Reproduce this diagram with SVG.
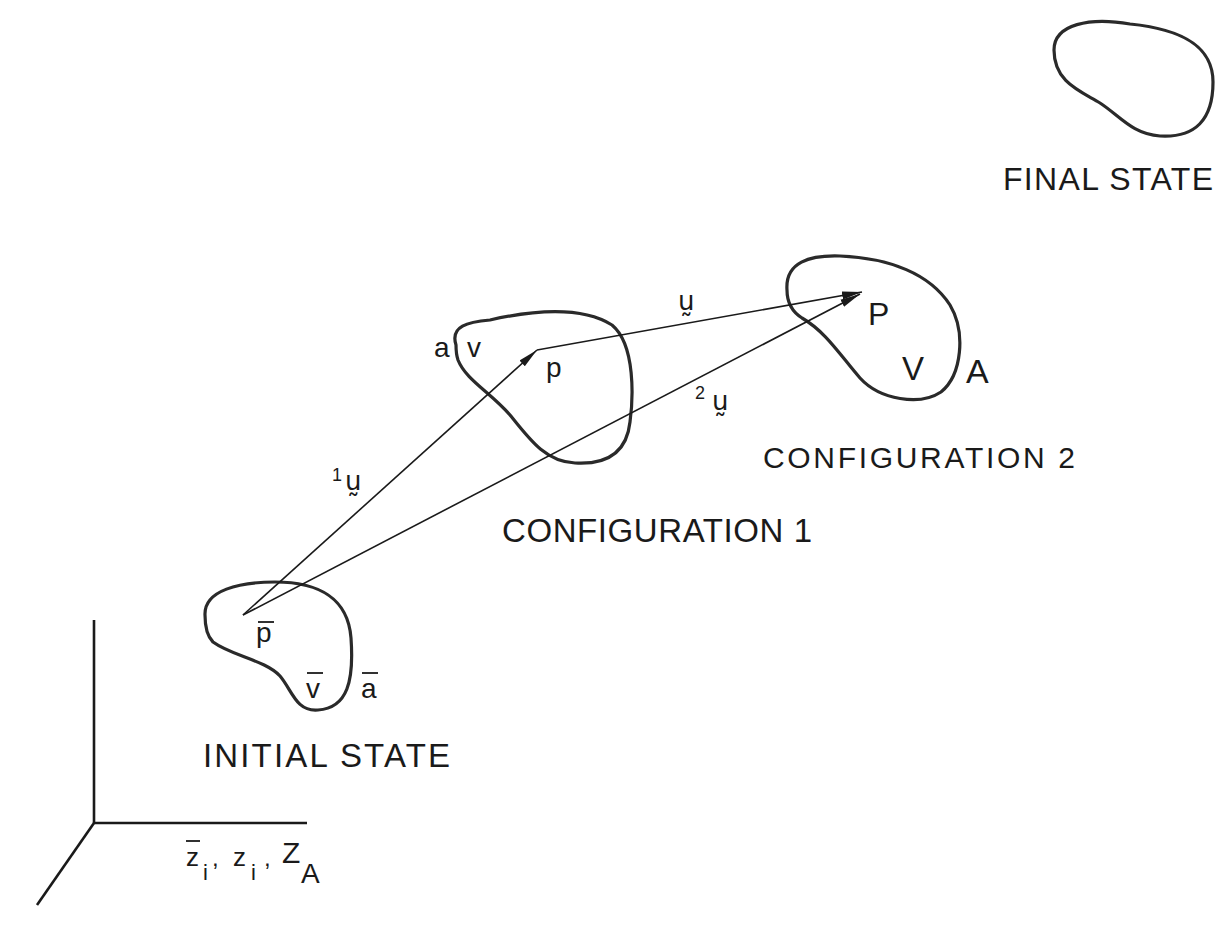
<svg xmlns="http://www.w3.org/2000/svg" width="1231" height="932" viewBox="0 0 1231 932">
<style>
.blob{fill:none;stroke:#2a2a2a;stroke-width:3.2;stroke-linejoin:round}
.vec{fill:none;stroke:#1a1a1a;stroke-width:1.6}
.axis{fill:none;stroke:#1a1a1a;stroke-width:2.6}
.ol{stroke:#1a1a1a;stroke-width:1.8}
.lbl{font-family:"Liberation Sans",Arial,sans-serif;fill:#1a1a1a}
.cap{font-size:33px}
.sym{font-size:28px}
.small{font-size:18px}
.vl{font-family:"DejaVu Sans","Liberation Sans",sans-serif;font-size:26px;fill:#1a1a1a}
</style>
<defs>
<marker id="ah" markerWidth="22" markerHeight="10" refX="20" refY="5" orient="auto" markerUnits="userSpaceOnUse">
<path d="M0,1 L20,5 L0,9 Z" fill="#1a1a1a"/>
</marker>
</defs>
<rect width="1231" height="932" fill="#fff"/>

<g id="axes">
<line class="axis" x1="94" y1="620" x2="94" y2="823"/>
<line class="axis" x1="94" y1="823" x2="307" y2="823"/>
<line class="axis" x1="94" y1="823" x2="37" y2="905"/>
<g class="lbl">
<text x="186" y="866" style="font-size:26px">z</text>
<line class="ol" x1="186" y1="841" x2="200" y2="841"/>
<text x="203" y="880" style="font-size:22px">i</text>
<text x="212" y="866" style="font-size:24px">,</text>
<text x="233" y="866" style="font-size:26px">z</text>
<text x="251" y="880" style="font-size:22px">i</text>
<text x="264" y="866" style="font-size:24px">,</text>
<text x="282" y="863" style="font-size:30px">Z</text>
<text x="301" y="883" style="font-size:28px">A</text>
</g>
</g>

<g id="initial-state">
<path class="blob" d="M205,615 C204,590 240,582 275,582 C318,582 348,598 351,638 C354,680 348,708 318,710 C296,712 292,690 280,676 C265,660 232,656 213,642 C206,635 205,625 205,615 Z"/>
<g class="lbl sym">
<text x="256" y="642">p</text>
<line class="ol" x1="258" y1="622" x2="274" y2="622"/>
<text x="306" y="698">v</text>
<line class="ol" x1="307" y1="673" x2="323" y2="673"/>
<text x="361" y="698">a</text>
<line class="ol" x1="362" y1="673" x2="378" y2="673"/>
</g>
<text class="lbl cap" x="203" y="767" textLength="247" lengthAdjust="spacing">INITIAL STATE</text>
</g>

<g id="configuration-1">
<path class="blob" d="M456,345 C450,326 468,322 490,320 C530,311 580,305 612,325 C636,345 633,400 630,422 C627,450 610,465 575,463 C546,462 530,440 510,415 C490,392 466,380 458,360 C456,354 456,350 456,345 Z"/>
<g class="lbl sym">
<text x="434" y="357">a</text>
<text x="467" y="357">v</text>
<text x="546" y="377">p</text>
</g>
<text class="lbl cap" x="502" y="542" textLength="310" lengthAdjust="spacing">CONFIGURATION 1</text>
</g>

<g id="configuration-2">
<path class="blob" d="M787,290 C785,262 810,255 840,256 C890,258 930,274 950,305 C966,332 962,375 941,392 C920,406 880,400 860,378 C840,355 826,332 802,318 C791,311 787,300 787,290 Z"/>
<g class="lbl">
<text x="868" y="325" style="font-size:32px">P</text>
<text x="902" y="380" style="font-size:33px">V</text>
<text x="966" y="383" style="font-size:34px">A</text>
</g>
<text class="lbl cap" x="763" y="468" textLength="312" lengthAdjust="spacing" style="font-size:30px">CONFIGURATION 2</text>
</g>

<g id="final-state">
<path class="blob" d="M1054,50 C1054,24 1090,17 1130,24 C1180,29 1213,45 1213,82 C1213,120 1195,138 1160,136 C1132,134 1120,116 1100,103 C1080,91 1054,82 1054,50 Z"/>
<text class="lbl cap" x="1003" y="190" textLength="210" lengthAdjust="spacing" style="font-size:32px">FINAL STATE</text>
</g>

<g id="connectors">
<line class="vec" x1="243" y1="615" x2="537" y2="350" marker-end="url(#ah)"/>
<line class="vec" x1="537" y1="350" x2="862" y2="292" marker-end="url(#ah)"/>
<line class="vec" x1="243" y1="615" x2="860" y2="294" marker-end="url(#ah)"/>
</g>

<g id="vector-labels">
<text x="332" y="481" class="lbl small">1</text>
<text x="345" y="490" class="vl">ṵ</text>
<text x="678" y="310" class="vl">ṵ</text>
<text x="695" y="399" class="lbl small">2</text>
<text x="712" y="410" class="vl">ṵ</text>
</g>
</svg>
